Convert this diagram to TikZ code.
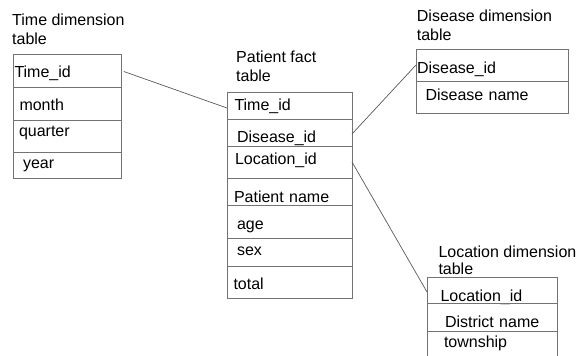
\documentclass[tikz,border=0pt]{standalone}
\usepackage{fontspec}
\setmainfont{Liberation Sans}
\usetikzlibrary{positioning}

\begin{document}
\begin{tikzpicture}[x=1pt, y=-1pt,
    cell/.style={draw=black!55, line width=0.8pt, anchor=north west, inner sep=0pt, outer sep=0pt,
                 align=left, text depth=0pt, font=\fontsize{16}{19}\selectfont},
    caption/.style={anchor=base west, inner sep=0pt, align=left, font=\fontsize{16}{19}\selectfont},
    link/.style={draw=black!65, line width=0.7pt}]
    \useasboundingbox (0,0) rectangle (582,356);
    \clip (0,0) rectangle (582,356);

    % Time dimension table
    \node[caption] (tTitle) at (12,45) {Time dimension\\table};
    \node[cell, text width=108pt, minimum height=33pt, text height=14.4pt] (tTime) at (13,54) {\hspace*{1.5pt}Time\_id};
    \node[cell, text width=108pt, minimum height=33pt, text height=13pt, below=0pt of tTime] (tMonth) {\hspace*{6.5pt}month};
    \node[cell, text width=108pt, minimum height=32pt, text height=1.4pt, below=0pt of tMonth] (tQuarter) {\hspace*{6pt}quarter};
    \node[cell, text width=108pt, minimum height=26pt, text height=6pt, below=0pt of tQuarter] (tYear) {\hspace*{10pt}year};

    % Patient fact table
    \node[caption] (pTitle) at (236,81) {Patient fact\\table};
    \node[cell, text width=125pt, minimum height=27pt, text height=9pt] (pTime) at (227,92) {\hspace*{7.5pt}Time\_id};
    \node[cell, text width=125pt, minimum height=27pt, text height=19.6pt, below=0pt of pTime] (pDis) {\hspace*{10pt}Disease\_id};
    \node[cell, text width=125pt, minimum height=32pt, text height=4.6pt, below=0pt of pDis] (pLoc) {\hspace*{8pt}Location\_id};
    \node[cell, text width=125pt, minimum height=27pt, text height=21.6pt, below=0pt of pLoc] (pName) {\hspace*{7pt}Patient name};
    \node[cell, text width=125pt, minimum height=33pt, text height=15pt, below=0pt of pName] (pAge) {\hspace*{10pt}age};
    \node[cell, text width=125pt, minimum height=28pt, text height=6pt, below=0pt of pAge] (pSex) {\hspace*{10pt}sex};
    \node[cell, text width=125pt, minimum height=32pt, text height=14pt, below=0pt of pSex] (pTotal) {\hspace*{6.5pt}total};

    % Disease dimension table
    \node[caption] (dTitle) at (416.7,40.7) {Disease dimension\\table};
    \node[cell, text width=152pt, minimum height=32pt, text height=18pt] (dDis) at (416,49) {\hspace*{1pt}Disease\_id};
    \node[cell, text width=152pt, minimum height=32pt, text height=6pt, below=0pt of dDis] (dName) {\hspace*{9.5pt}Disease name};

    % Location dimension table
    \node[caption] (lTitle) at (438.3,274.3) {Location dimension\\[-2.4pt]table};
    \node[cell, text width=130pt, minimum height=26pt, text height=22pt] (lLoc) at (427,277) {\hspace*{13.5pt}Location\_id};
    \node[cell, text width=130pt, minimum height=28pt, text height=21.4pt, below=0pt of lLoc] (lDist) {\hspace*{18pt}District name};
    \node[cell, text width=130pt, minimum height=30pt, text height=3.4pt, below=0pt of lDist] (lTown) {\hspace*{17pt}township};

    % connectors
    \draw[link, shorten <=3pt] (tTime.east) -- ([yshift=-2.5pt]pTime.west);
    \draw[link] ([yshift=-1.5pt]pDis.east) -- (dDis.west);
    \draw[link] (pLoc.east) -- ([yshift=-2pt]lLoc.west);
\end{tikzpicture}
\end{document}
